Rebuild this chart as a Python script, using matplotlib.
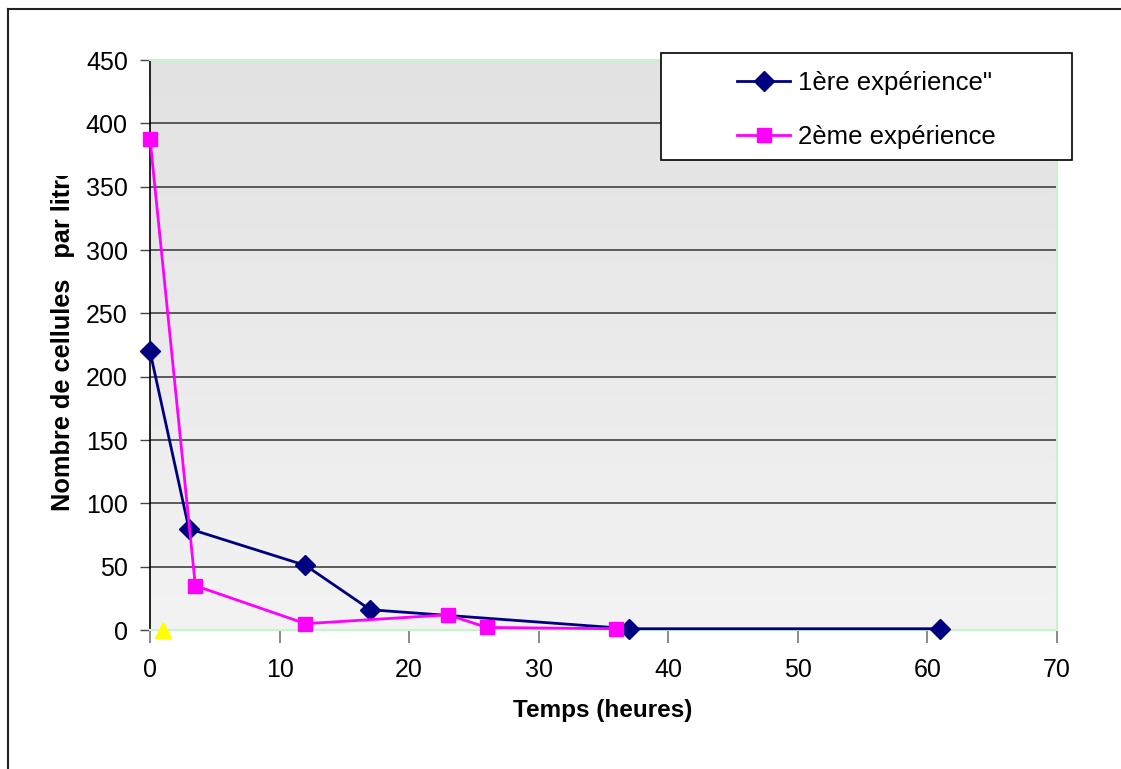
import matplotlib.pyplot as plt
import numpy as np
from matplotlib.lines import Line2D
from matplotlib.patches import Rectangle
from matplotlib.transforms import Bbox

plt.rcParams['font.family'] = ['Liberation Sans', 'DejaVu Sans']

# data
temps_1 = [0, 3, 12, 17, 37, 61]
cellules_1 = [220, 80, 51, 16, 1, 1]
temps_2 = [0, 3.5, 12, 23, 26, 36]
cellules_2 = [388, 35, 5, 12, 2, 1]
temps_3 = [1]
cellules_3 = [0]
labels = ['1ère expérience"', '2ème expérience']

W, H = 1121, 769
fig = plt.figure(figsize=(W / 100, H / 100), dpi=100)
ax = fig.add_axes([150 / W, 1 - 630 / H, 907 / W, 570 / H])

# grey gradient background of the plot area
grad = np.linspace(0, 1, 256).reshape(-1, 1)
ax.imshow(grad, cmap=plt.matplotlib.colors.LinearSegmentedColormap.from_list('g', ['#e2e2e2', '#f3f3f3']),
          extent=[0, 1, 0, 1], transform=ax.transAxes, aspect='auto', zorder=0)

ax.set_xlim(0, 70)
ax.set_ylim(0, 450)
ax.set_xticks(range(0, 71, 10))
ax.set_yticks(range(0, 451, 50))
ax.yaxis.grid(True, color='#333333', linewidth=1.1, zorder=1)
ax.set_axisbelow(True)

ax.plot(temps_1, cellules_1, color='#000080', linewidth=2, marker='D', markersize=10,
        label=labels[0], zorder=3, clip_on=False)
ax.plot(temps_2, cellules_2, color='#ff00ff', linewidth=2, marker='s', markersize=10,
        label=labels[1], zorder=3, clip_on=False)
ax.plot(temps_3, cellules_3, linestyle='none', marker='^', markersize=11, color='#ffff00',
        zorder=4, clip_on=False)

for s in ['top', 'right', 'bottom']:
    ax.spines[s].set_color('#c8f5c8')
    ax.spines[s].set_linewidth(1.5)
ax.spines['left'].set_color('black')
ax.spines['left'].set_linewidth(1.2)

ax.tick_params(axis='y', direction='out', length=7, width=1, color='#444444', pad=9, labelsize=18)
ax.tick_params(axis='x', direction='out', length=9, width=1.2, color='#777777', pad=11, labelsize=18)

fig.text(603 / W, 1 - 711 / H, 'Temps (heures)', ha='center', va='center',
         fontsize=17.5, fontweight='bold')
yl = fig.text(63 / W, 1 - 511 / H, 'Nombre de cellules   par litre', ha='center', va='bottom',
              rotation=90, fontsize=18.3, fontweight='bold')
yl.set_clip_box(Bbox.from_extents(0, 0, 150, H - 176))
yl.set_clip_on(True)

# legend box drawn separately (wide padding as in the original)
fig.add_artist(Rectangle((661 / W, 1 - 160 / H), 411 / W, 107 / H, transform=fig.transFigure,
                         facecolor='white', edgecolor='black', linewidth=1.2, zorder=4))
leg = fig.legend(loc='center', bbox_to_anchor=((661 + 1072) / 2 / W, 1 - 110 / H),
                 fontsize=18.5, frameon=False, handlelength=2.06, labelspacing=1.2,
                 borderpad=0, borderaxespad=0, handletextpad=0.3)
leg.set_zorder(5)

# outer chart border (left and top edges visible)
fig.add_artist(Line2D([8 / W, 8 / W], [0, 1 - 9 / H], color='#222222', linewidth=1.5))
fig.add_artist(Line2D([8 / W, 1], [1 - 9 / H, 1 - 9 / H], color='#222222', linewidth=1.5))

fig.savefig('out.png', dpi=100)
